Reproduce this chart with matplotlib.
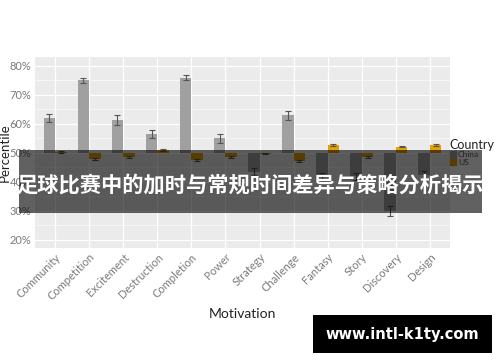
import numpy as np
import matplotlib
matplotlib.use("Agg")
import matplotlib.pyplot as plt
from matplotlib.patches import Rectangle, Patch

# ─────────────────────────────────────────────────────────────────────────────
# Data (percentile, bars start at the 50% line)
# ─────────────────────────────────────────────────────────────────────────────
motivations = ["Community", "Competition", "Excitement", "Destruction", "Completion",
               "Power", "Strategy", "Challenge", "Fantasy", "Story", "Discovery", "Design"]
china = [62.0, 75.0, 61.5, 56.5, 76.0, 55.0, 43.5, 63.0, 42.0, 42.0, 30.0, 42.5]
china_err = [1.3, 1.0, 1.7, 1.5, 1.0, 1.7, 1.2, 1.5, 1.2, 1.2, 1.6, 1.2]
us = [50.3, 47.9, 48.6, 51.0, 47.6, 48.7, 49.8, 47.3, 52.7, 48.7, 52.2, 52.7]
us_err = [0.3, 0.3, 0.3, 0.3, 0.3, 0.3, 0.3, 0.3, 0.3, 0.3, 0.3, 0.3]

title_cn = "足球比赛中的加时与常规时间差异与策略分析揭示"
watermark = "www.intl-k1ty.com"

C_CHINA = "#A0A0A0"
C_US = "#E6A000"
TICK = "#7A7A7A"

fig = plt.figure(figsize=(5.0, 3.62), dpi=100)
ax = fig.add_axes([0.07, 0.315, 0.83, 0.5275])

x = np.arange(1, len(motivations) + 1)
w = 0.35
base = 50.0

ax.bar(x - w / 2, np.array(china) - base, width=w, bottom=base, color=C_CHINA, zorder=3)
ax.bar(x + w / 2, np.array(us) - base, width=w, bottom=base, color=C_US, zorder=3)
ax.errorbar(x - w / 2, china, yerr=china_err, fmt="none", ecolor="#555555",
            elinewidth=0.8, capsize=2, capthick=0.8, zorder=4)
ax.errorbar(x + w / 2, us, yerr=us_err, fmt="none", ecolor="#555555",
            elinewidth=0.8, capsize=2, capthick=0.8, zorder=4)

ax.set_xlim(0.4, 12.6)
ax.set_ylim(17.2, 83.1)
ax.set_facecolor("#EBEBEB")
for s in ax.spines.values():
    s.set_visible(False)

yt = [20, 30, 40, 50, 60, 70, 80]
ax.set_yticks(yt)
ax.set_yticklabels([f"{v}%" for v in yt])
ax.set_yticks([25, 35, 45, 55, 65, 75], minor=True)
ax.set_xticks(x)
ax.set_xticklabels(motivations, rotation=45, ha="right", rotation_mode="anchor")
ax.tick_params(axis="both", which="both", length=0, colors=TICK, labelsize=8, pad=2.5)
ax.tick_params(axis="y", which="minor", labelleft=False)
ax.grid(True, which="major", color="white", lw=0.9, zorder=0)
ax.grid(True, which="minor", axis="y", color="white", lw=0.4, zorder=0)
for lab in ax.get_xticklabels() + ax.get_yticklabels():
    lab.set_fontfamily("Lato")

ax.set_xlabel("Motivation", fontsize=10, color="#222222", family="Lato", labelpad=4)
ax.set_ylabel("Percentile", fontsize=9.5, color="#222222", family="Lato")
ax.yaxis.set_label_coords(-0.058, 0.5)

handles = [Patch(color=C_CHINA, label="China"), Patch(color=C_US, label="US")]
leg = ax.legend(handles=handles, title="Country", loc="center left",
                bbox_to_anchor=(0.995, 0.5), frameon=False,
                title_fontsize=9, handlelength=0.8, handleheight=0.8,
                handletextpad=0.2, labelspacing=0.05, borderaxespad=0.1,
                borderpad=0.1, alignment="left", prop={"family": "Lato", "size": 6})
leg.get_title().set_fontfamily("Lato")
leg.get_title().set_color("#222222")
for t in leg.get_texts():
    t.set_color("#555555")

# dark banner with the Chinese title over the chart
fig.add_artist(Rectangle((19 / 500, 1 - 213 / 362), 463 / 500, 63 / 362,
                         transform=fig.transFigure, facecolor="black",
                         alpha=0.62, lw=0, zorder=10))
fig.text(250.5 / 500, 1 - 185 / 362, title_cn, ha="center", va="center",
         color="white", fontsize=15.3, fontweight="bold",
         family=["Noto Sans CJK SC", "DejaVu Sans"], zorder=11)

# watermark box bottom right
fig.add_artist(Rectangle((313 / 500, 1 - 353 / 362), 179 / 500, 38 / 362,
                         transform=fig.transFigure, facecolor="black",
                         lw=0, zorder=10))
fig.text(402.5 / 500, 1 - 334 / 362, watermark, ha="center", va="center",
         color="white", fontsize=10.5, fontweight="bold",
         family="DejaVu Sans", zorder=11)

fig.savefig("out.png", dpi=100)
